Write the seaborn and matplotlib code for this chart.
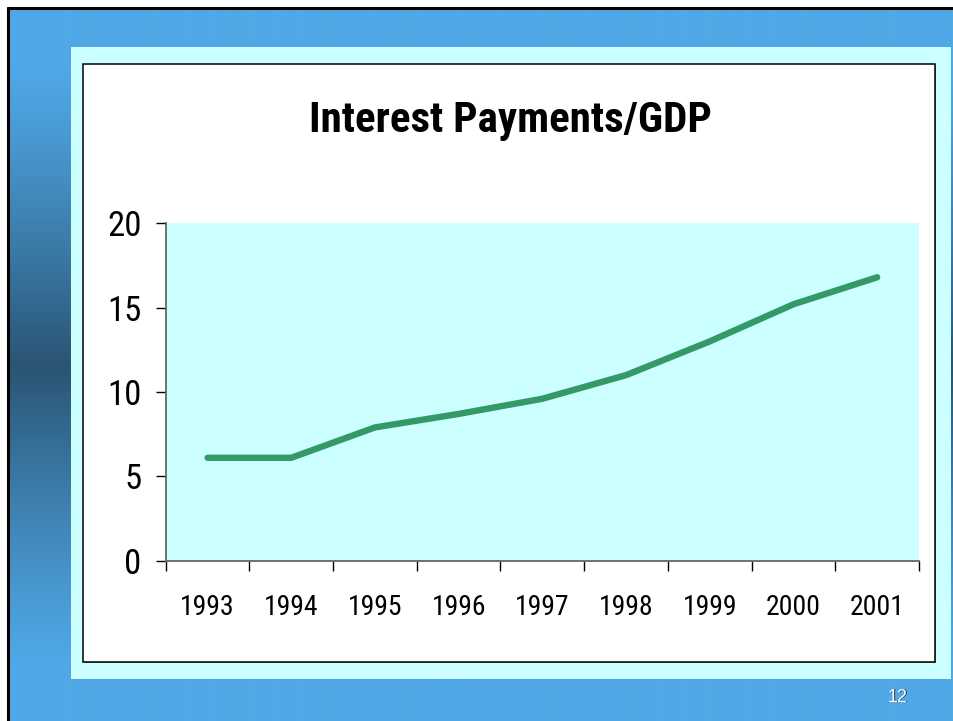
import numpy as np
import pandas as pd
import matplotlib
matplotlib.use("Agg")
import matplotlib.pyplot as plt
from matplotlib import font_manager
from matplotlib.patches import Rectangle
import seaborn as sns

# Interest payments as a share of GDP
years = ["1993", "1994", "1995", "1996", "1997", "1998", "1999", "2000", "2001"]
interest_gdp = [6.1, 6.1, 7.9, 8.7, 9.6, 11.0, 13.0, 15.2, 16.8]
y_ticks = [0, 5, 10, 15, 20]

sns.set_theme(style="white")

# pick a narrow grotesque family (lining figures) that also ships a static bold face
preferred = ["Liberation Sans Narrow", "Arial Narrow", "Nimbus Sans Narrow",
             "Archivo Narrow", "Roboto Condensed", "IBM Plex Sans Condensed",
             "Fira Sans Condensed", "Encode Sans Condensed", "Asap Condensed"]
faces = {}
for f in font_manager.fontManager.ttflist:
    if f.style == "normal":
        faces.setdefault(f.name, set()).add(f.weight if isinstance(f.weight, int) else 400)
chart_family = None
for name in preferred:
    w = faces.get(name, set())
    if any(x >= 700 for x in w) and any(x <= 500 for x in w):
        chart_family = name
        break
if chart_family:
    chart_font = [chart_family, "Liberation Sans", "DejaVu Sans"]
    title_size, xlab_size, ylab_size = 31, 20, 25
else:
    chart_font = ["Liberation Sans", "DejaVu Sans"]
    title_size, xlab_size, ylab_size = 30, 18.5, 23
plt.rcParams["font.family"] = chart_font

W, H = 954, 721
fig = plt.figure(figsize=(W / 100, H / 100), dpi=100)

# ---- slide background -------------------------------------------------
bg = fig.add_axes([0, 0, 1, 1])
bg.set_xlim(0, W)
bg.set_ylim(H, 0)
bg.axis("off")

light = np.array([80, 168, 230]) / 255
dark = np.array([42, 84, 115]) / 255
rows = np.arange(7, H)
t = np.clip(1 - np.abs(rows - 365) / 300.0, 0, 1)
t = t ** 1.2
grad = (light[None, :] * (1 - t[:, None]) + dark[None, :] * t[:, None])
grad_img = np.repeat(grad[:, None, :], 2, axis=1)
bg.imshow(grad_img, extent=[7, W + 2, H, 7], aspect="auto", interpolation="bilinear", zorder=0)

# slide outline
bg.plot([8, 8], [8, H + 2], color="black", lw=2.2, zorder=1)
bg.plot([8, W + 2], [8, 8], color="black", lw=2.2, zorder=1)

# pale frame and white chart panel
bg.add_patch(Rectangle((71, 47), 880, 632, facecolor="#CCFFFF", edgecolor="none", zorder=2))
bg.add_patch(Rectangle((84.5, 64.5), 852, 598, facecolor="#8a8a8a", edgecolor="none", zorder=3))
bg.add_patch(Rectangle((83.5, 63.5), 852, 598, facecolor="white", edgecolor="black", lw=1.1, zorder=4))

# page number with a drop shadow
page_font = ["Liberation Sans", "DejaVu Sans"]
bg.text(898.8, 697.8, "12", color="#333333", fontsize=13, ha="center", va="center",
        family=page_font, zorder=5)
bg.text(898, 697, "12", color="white", fontsize=13, ha="center", va="center",
        family=page_font, zorder=6)

# ---- chart ------------------------------------------------------------
x0, x1 = 165.7, 919.0
y0, y1 = 223.3, 560.7
ax = fig.add_axes([x0 / W, 1 - y1 / H, (x1 - x0) / W, (y1 - y0) / H])
ax.set_facecolor("#CCFFFF")

df = pd.DataFrame({"pos": np.arange(len(years)), "value": interest_gdp})
sns.lineplot(data=df, x="pos", y="value", ax=ax, color="#339966", linewidth=4.6,
             solid_capstyle="round", solid_joinstyle="round")

ax.set_xlim(-0.5, len(years) - 0.5)
ax.set_ylim(0, 20)
ax.set_xlabel("")
ax.set_ylabel("")

# category boundaries carry the tick marks, labels sit at the centres
ax.set_xticks(np.arange(len(years) + 1) - 0.5)
ax.set_xticklabels([])
ax.set_xticks(np.arange(len(years)), minor=True)
ax.set_xticklabels(years, minor=True, fontsize=xlab_size)
ax.tick_params(axis="x", which="major", direction="out", length=7.5, width=1.0,
               color="black", bottom=True)
ax.tick_params(axis="x", which="minor", length=0, pad=24, labelcolor="black")

ax.set_yticks(y_ticks)
ax.set_yticklabels([str(v) for v in y_ticks], fontsize=ylab_size)
ax.tick_params(axis="y", direction="out", length=7.5, width=1.0, color="black",
               left=True, pad=10, labelcolor="black")

for side in ("top", "right"):
    ax.spines[side].set_visible(False)
for side in ("left", "bottom"):
    ax.spines[side].set_color("#666666")
    ax.spines[side].set_linewidth(1.3)

fig.text(510 / W, 1 - 132 / H, "Interest Payments/GDP", ha="center", va="baseline",
         fontsize=title_size, fontweight="bold", color="black")

fig.savefig("out.png", dpi=100)
